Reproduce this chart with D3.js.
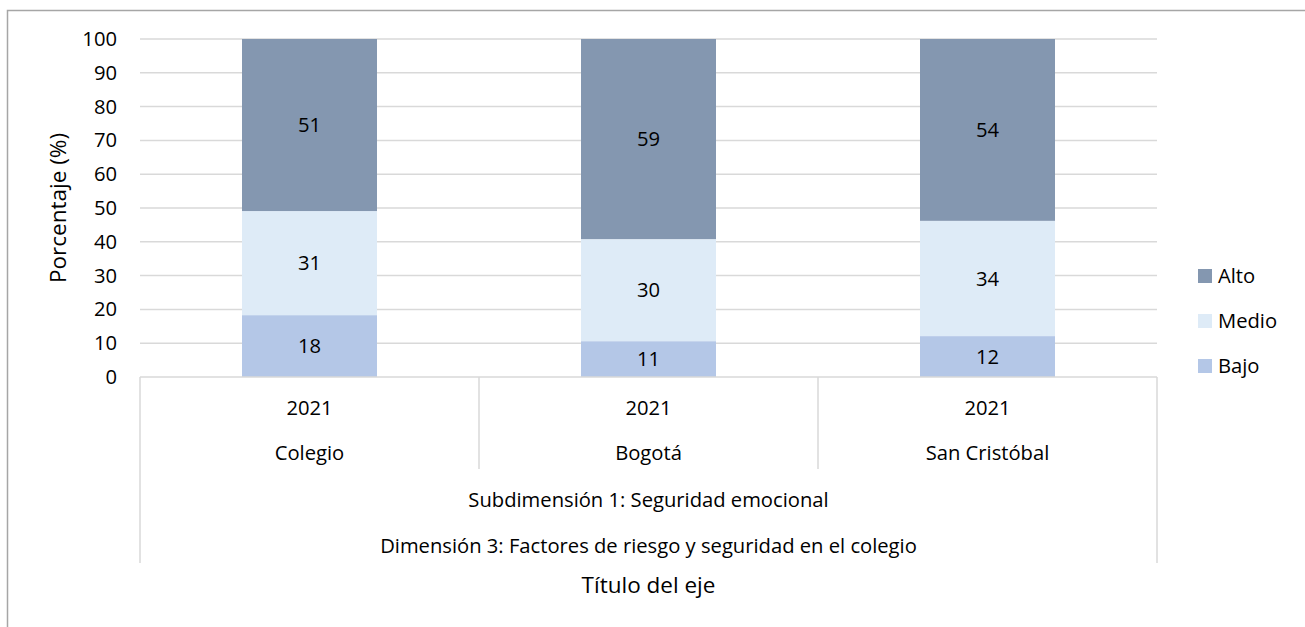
<!DOCTYPE html>
<html>
<head>
<meta charset="utf-8">
<script src="https://cdn.jsdelivr.net/npm/d3@7"></script>
<style>
  body { margin: 0; background: #fff; }
  svg { display: block; font-family: "Open Sans", Lato, sans-serif; }
</style>
</head>
<body>
<svg width="1305" height="627"></svg>
<script>
// data
var places = ["Colegio", "Bogotá", "San Cristóbal"];
var years = ["2021", "2021", "2021"];
var levels = ["Bajo", "Medio", "Alto"];
var bajo = [18.3, 10.6, 12.1];
var medio = [30.8, 30.2, 34.1];
var alto = [50.9, 59.2, 53.8];
var yTicks = [0, 10, 20, 30, 40, 50, 60, 70, 80, 90, 100];
var subLabel = "Subdimensión 1: Seguridad emocional";
var dimLabel = "Dimensión 3: Factores de riesgo y seguridad en el colegio";
var xTitle = "Título del eje";
var yTitle = "Porcentaje (%)";

var colors = { Bajo: "#b4c7e7", Medio: "#deebf7", Alto: "#8497b0" };

var rows = places.map(function(p, i) {
    return { place: p, Bajo: bajo[i], Medio: medio[i], Alto: alto[i] };
});

var svg = d3.select("svg");
var plotLeft = 140, plotRight = 1157, plotTop = 39, plotBottom = 377;

var x = d3.scaleBand().domain(places).range([plotLeft, plotRight]).paddingInner(0).paddingOuter(0);
var y = d3.scaleLinear().domain([0, 100]).range([plotBottom, plotTop]);
var barW = 135;
var fs = "20.2px";
var titleFs = "22.5px";

// outer frame
svg.append("path")
    .attr("d", "M7.5,640 V10.5 H1320")
    .attr("fill", "none")
    .attr("stroke", "#a6a6a6")
    .attr("stroke-width", 1.5);

// gridlines
svg.append("g").selectAll("line")
    .data(yTicks.filter(function(d) { return d > 0; }))
    .enter().append("line")
    .attr("x1", plotLeft).attr("x2", plotRight)
    .attr("y1", function(d) { return y(d); })
    .attr("y2", function(d) { return y(d); })
    .attr("stroke", "#d9d9d9")
    .attr("stroke-width", 1.5);

// y tick labels
svg.append("g").selectAll("text")
    .data(yTicks)
    .enter().append("text")
    .attr("x", 117)
    .attr("y", function(d) { return y(d); })
    .attr("dy", "0.35em")
    .attr("text-anchor", "end")
    .style("font-size", fs)
    .attr("fill", "#000")
    .text(function(d) { return d; });

// stacked bars
var series = d3.stack().keys(levels)(rows);
var layer = svg.append("g").selectAll("g")
    .data(series)
    .enter().append("g")
    .attr("fill", function(d) { return colors[d.key]; });

layer.selectAll("rect")
    .data(function(d) { return d; })
    .enter().append("rect")
    .attr("x", function(d) { return x(d.data.place) + (x.bandwidth() - barW) / 2; })
    .attr("width", barW)
    .attr("y", function(d) { return y(d[1]); })
    .attr("height", function(d) { return y(d[0]) - y(d[1]); });

layer.selectAll("text")
    .data(function(d) { return d; })
    .enter().append("text")
    .attr("x", function(d) { return x(d.data.place) + x.bandwidth() / 2; })
    .attr("y", function(d) { return y((d[0] + d[1]) / 2); })
    .attr("dy", "0.35em")
    .attr("text-anchor", "middle")
    .attr("fill", "#000")
    .style("font-size", fs)
    .text(function(d) { return Math.round(d[1] - d[0]); });

// axis baseline and multi-level category grid
var axisG = svg.append("g").attr("stroke", "#d9d9d9").attr("stroke-width", 1.5);
axisG.append("line").attr("x1", plotLeft).attr("x2", plotRight).attr("y1", plotBottom).attr("y2", plotBottom);
axisG.append("line").attr("x1", plotLeft).attr("x2", plotLeft).attr("y1", plotBottom).attr("y2", 563);
axisG.append("line").attr("x1", plotRight).attr("x2", plotRight).attr("y1", plotBottom).attr("y2", 563);
axisG.selectAll(".sep")
    .data(places.slice(1))
    .enter().append("line")
    .attr("x1", function(d) { return x(d); })
    .attr("x2", function(d) { return x(d); })
    .attr("y1", plotBottom).attr("y2", 469);

var labels = svg.append("g").attr("fill", "#000").attr("text-anchor", "middle").style("font-size", fs);
labels.selectAll(".yr")
    .data(places)
    .enter().append("text")
    .attr("x", function(d) { return x(d) + x.bandwidth() / 2; })
    .attr("y", 408)
    .attr("dy", "0.35em")
    .text(function(d, i) { return years[i]; });
labels.selectAll(".pl")
    .data(places)
    .enter().append("text")
    .attr("x", function(d) { return x(d) + x.bandwidth() / 2; })
    .attr("y", 453)
    .attr("dy", "0.35em")
    .text(function(d) { return d; });
labels.append("text")
    .attr("x", (plotLeft + plotRight) / 2).attr("y", 500).attr("dy", "0.35em")
    .text(subLabel);
labels.append("text")
    .attr("x", (plotLeft + plotRight) / 2).attr("y", 546).attr("dy", "0.35em")
    .text(dimLabel);
labels.append("text")
    .attr("x", (plotLeft + plotRight) / 2).attr("y", 585).attr("dy", "0.35em")
    .style("font-size", titleFs)
    .text(xTitle);

// y title
svg.append("text")
    .attr("transform", "translate(58," + y(50) + ") rotate(-90)")
    .attr("dy", "0.35em")
    .attr("text-anchor", "middle")
    .style("font-size", titleFs)
    .attr("fill", "#000")
    .text(yTitle);

// legend
var legend = svg.append("g").selectAll("g")
    .data(levels.slice().reverse())
    .enter().append("g")
    .attr("transform", function(d, i) { return "translate(1198," + (276 + i * 45) + ")"; });
legend.append("rect")
    .attr("x", 0).attr("y", -7).attr("width", 14).attr("height", 14)
    .attr("fill", function(d) { return colors[d]; });
legend.append("text")
    .attr("x", 20).attr("dy", "0.35em")
    .style("font-size", fs)
    .attr("fill", "#000")
    .text(function(d) { return d; });
</script>
</body>
</html>
